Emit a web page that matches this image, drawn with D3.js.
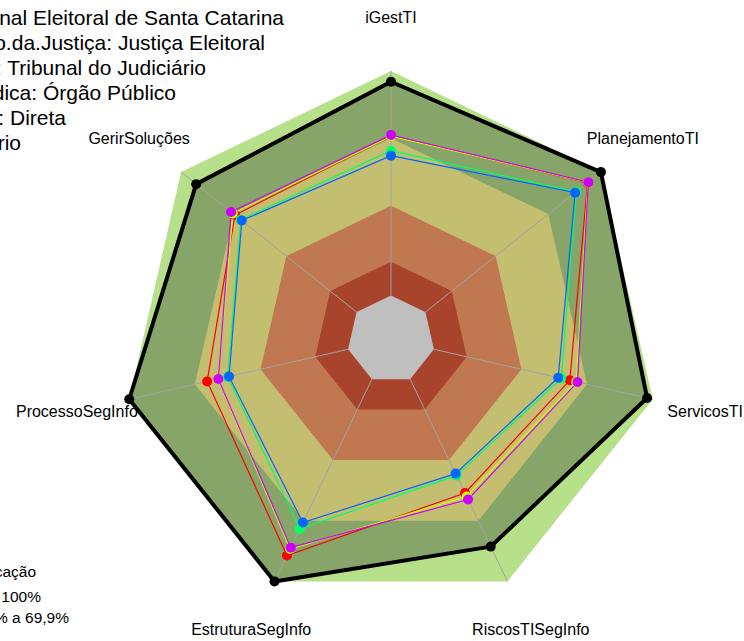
<!DOCTYPE html>
<html>
<head>
<meta charset="utf-8">
<script src="https://cdn.jsdelivr.net/npm/d3@7"></script>
<style>
  body { margin: 0; background: #fff; }
  svg { display: block; font-family: "Liberation Sans", Arial, sans-serif; }
</style>
</head>
<body>
<script>
// axes of the radar, clockwise from the top
var axes = ["iGestTI", "PlanejamentoTI", "ServicosTI", "RiscosTISegInfo",
            "EstruturaSegInfo", "ProcessoSegInfo", "GerirSoluções"];

// classification bands (upper limit of each band, in %)
var bandLimits = [70, 40, 15, 0];
var bandColors = ["#c4bf70", "#c07850", "#a8432c", "#bfbfbf"];

// series (values in %)
var referencia = [95.2, 100, 97.4, 82.8, 100, 100, 91.4];
var serieVermelha = [71.2, 92.4, 62.1, 56.3, 87.2, 64.4, 69.3];
var serieAmarela  = [71.0, 92.6, 65.0, 58.0, 84.0, 59.5, 70.5];
var serieVerde    = [64.5, 86.0, 58.2, 47.7, 74.0, 55.0, 66.0];
var serieAzul     = [62.3, 85.3, 56.8, 46.7, 70.9, 54.4, 65.4];
var serieMagenta  = [71.5, 92.8, 65.6, 59.5, 83.3, 59.3, 71.5];
var series = [serieVermelha, serieAmarela, serieVerde, serieAzul, serieMagenta];
var seriesColors = ["#FF0000", "#CCFF00", "#00FF66", "#0066FF", "#CC00FF"];

// header lines and legend (cut by the left border of the picture)
var titleLines = ["Organização: Tribunal Regional Eleitoral de Santa Catarina",
                  "Segmento.da.Justiça: Justiça Eleitoral",
                  "Tipo: Tribunal do Judiciário",
                  "Natureza.Jurídica: Órgão Público",
                  "Administração: Direta",
                  "Poder: Judiciário"];
var titleEnds = [284, 265, 206, 176, 66, 21];
var legendLines = ["Classificação", "70% a 100%", "40% a 69,9%"];
var legendEnds = [36, 41, 69];

var width = 744, height = 641,
    cx = 391, cy = 339.5;

var svg = d3.select("body").append("svg")
    .attr("width", width)
    .attr("height", height);

var g = svg.append("g")
    .attr("transform", "translate(" + cx + "," + cy + ")");

var r = d3.scaleLinear().domain([0, 100]).range([44, 268.5]);
var angle = d3.scaleLinear().domain([0, axes.length]).range([0, 2 * Math.PI]);

var radar = d3.lineRadial()
    .angle(function(d, i) { return angle(i); })
    .radius(function(d) { return r(d); })
    .curve(d3.curveLinearClosed);

function px(v, i) { return r(v) * Math.sin(angle(i)); }
function py(v, i) { return -r(v) * Math.cos(angle(i)); }
function full(v) { return axes.map(function() { return v; }); }

// outer band 70-100
g.append("path")
    .attr("d", radar(full(100)))
    .attr("fill", "#b7e08b");

// reference area (darkens the outer band)
g.append("path")
    .attr("d", radar(referencia))
    .attr("fill", "#87a469");

// inner bands
g.selectAll(".band")
    .data(bandLimits)
  .enter().append("path")
    .attr("class", "band")
    .attr("d", function(d) { return radar(full(d)); })
    .attr("fill", function(d, i) { return bandColors[i]; });

// spokes
g.selectAll(".spoke")
    .data(axes)
  .enter().append("line")
    .attr("class", "spoke")
    .attr("x1", function(d, i) { return px(0, i); })
    .attr("y1", function(d, i) { return py(0, i); })
    .attr("x2", function(d, i) { return px(100, i); })
    .attr("y2", function(d, i) { return py(100, i); })
    .attr("stroke", "#a3a3a3")
    .attr("stroke-width", 1);

// coloured series
series.forEach(function(s, k) {
  g.append("path")
      .attr("d", radar(s))
      .attr("fill", "none")
      .attr("stroke", seriesColors[k])
      .attr("stroke-width", 1.2);
});
series.forEach(function(s, k) {
  g.selectAll(".pt" + k)
      .data(s)
    .enter().append("circle")
      .attr("class", "pt" + k)
      .attr("cx", function(d, i) { return px(d, i); })
      .attr("cy", function(d, i) { return py(d, i); })
      .attr("r", 5)
      .attr("fill", seriesColors[k]);
});

// reference line
g.append("path")
    .attr("d", radar(referencia))
    .attr("fill", "none")
    .attr("stroke", "#000")
    .attr("stroke-width", 4)
    .attr("stroke-linejoin", "round");
g.selectAll(".ref")
    .data(referencia)
  .enter().append("circle")
    .attr("class", "ref")
    .attr("cx", function(d, i) { return px(d, i); })
    .attr("cy", function(d, i) { return py(d, i); })
    .attr("r", 5)
    .attr("fill", "#000");

// axis labels at 1.2 x outer radius
var labelR = 1.2 * r(100);
g.selectAll(".lab")
    .data(axes)
  .enter().append("text")
    .attr("class", "lab")
    .attr("x", function(d, i) { return labelR * Math.sin(angle(i)); })
    .attr("y", function(d, i) { return -labelR * Math.cos(angle(i)); })
    .attr("dy", "0.35em")
    .attr("text-anchor", "middle")
    .style("font-size", "16px")
    .text(function(d) { return d; });

// header
svg.selectAll(".title")
    .data(titleLines)
  .enter().append("text")
    .attr("class", "title")
    .attr("x", function(d, i) { return titleEnds[i]; })
    .attr("y", function(d, i) { return 25 + i * 25; })
    .attr("text-anchor", "end")
    .style("font-size", "21px")
    .text(function(d) { return d; });

// legend
svg.selectAll(".leg")
    .data(legendLines)
  .enter().append("text")
    .attr("class", "leg")
    .attr("x", function(d, i) { return legendEnds[i]; })
    .attr("y", function(d, i) { return [577, 602, 623][i]; })
    .attr("text-anchor", "end")
    .style("font-size", "15.5px")
    .text(function(d) { return d; });
</script>
</body>
</html>
